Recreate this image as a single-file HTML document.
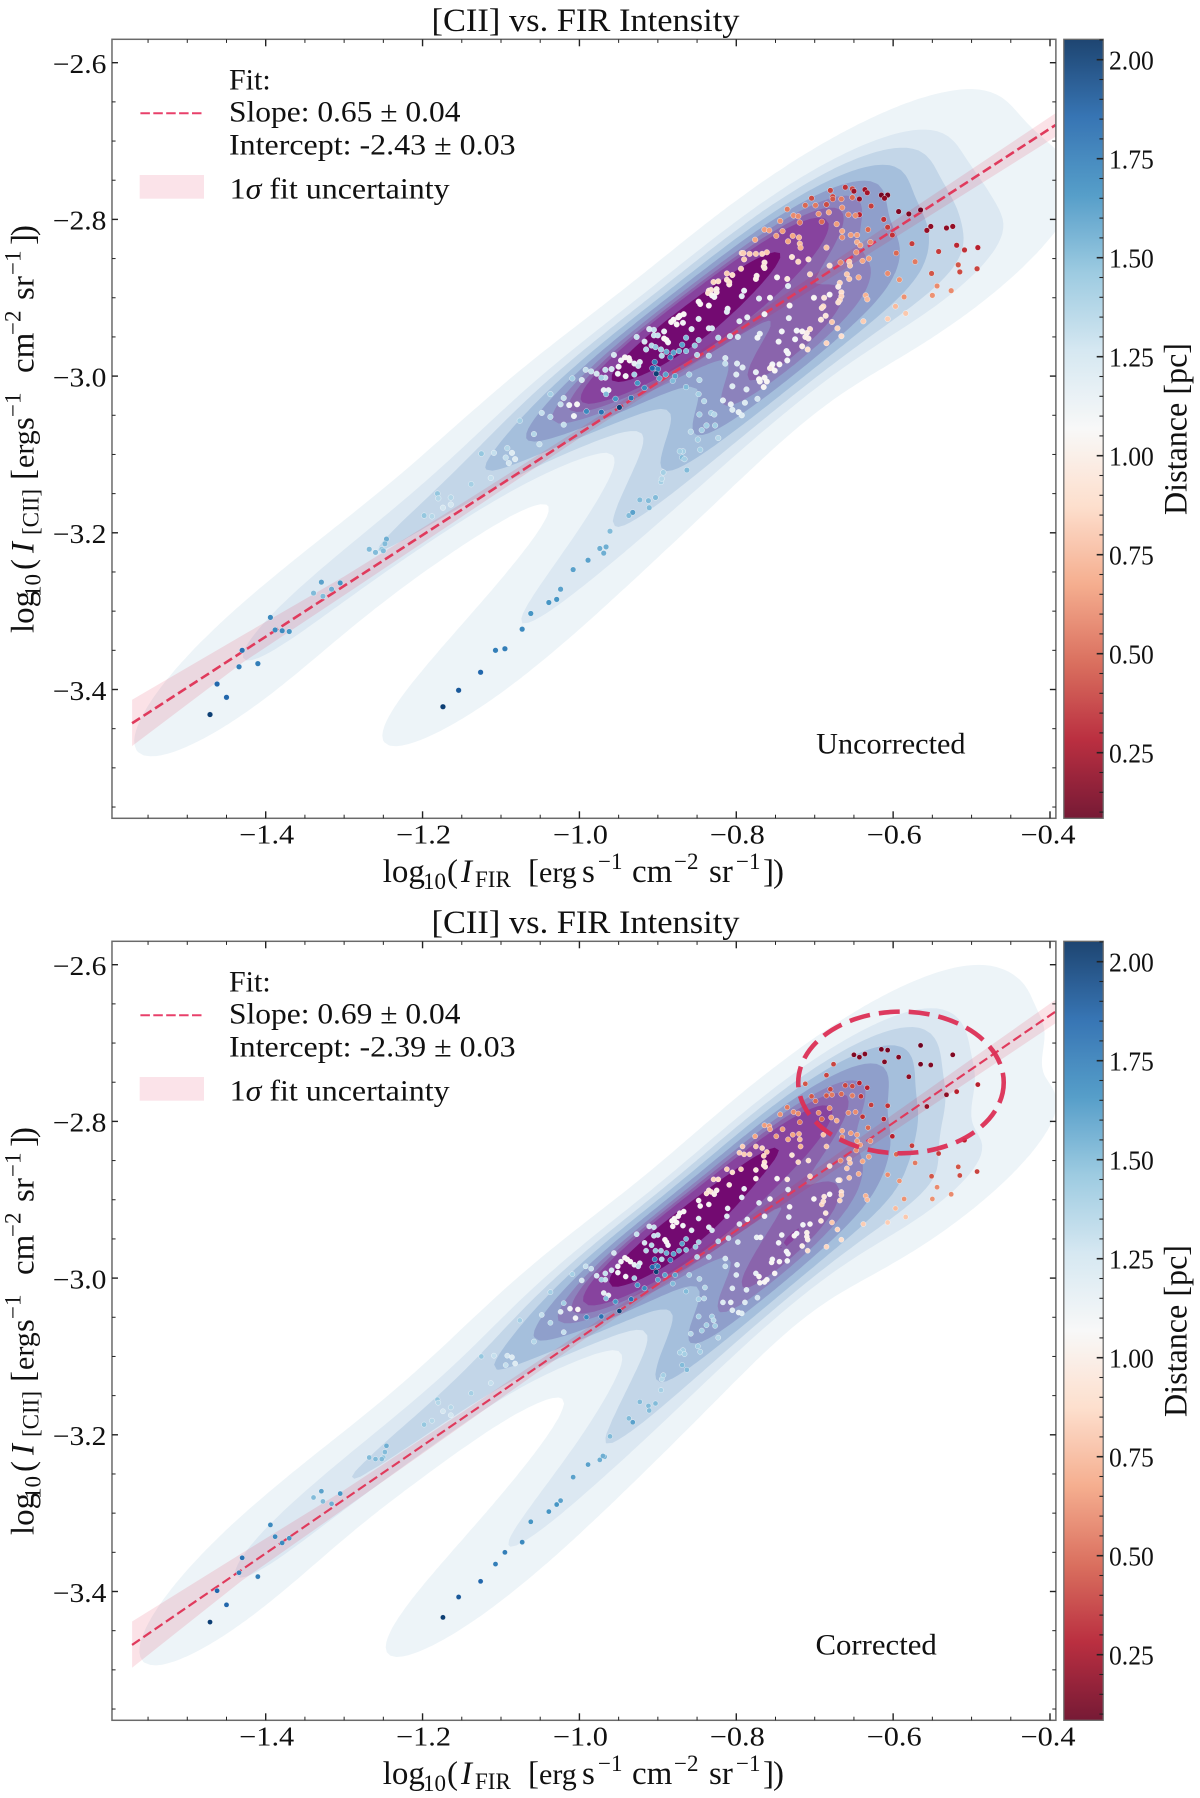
<!DOCTYPE html>
<html lang="en">
<head>
<meta charset="utf-8">
<title>[CII] vs. FIR Intensity</title>
<style>
html,body{margin:0;padding:0;background:#fff}
svg{display:block}
text{font-family:"Liberation Serif",serif;fill:#111}
</style>
</head>
<body>
<svg id="figure" xmlns="http://www.w3.org/2000/svg" width="1200" height="1798" viewBox="0 0 1200 1798">
<defs>
<clipPath id="plot-clip"><rect x="112" y="39.3" width="943.8" height="779"/></clipPath>
<linearGradient id="cb-gradient" x1="0" y1="1" x2="0" y2="0"></linearGradient>
</defs>

<g id="panel-top">
<g class="marks"></g>
<g class="axes"></g>
<text x="585.5" y="31" text-anchor="middle" font-size="33" textLength="308" lengthAdjust="spacingAndGlyphs">[CII] vs. FIR Intensity</text>
<text y="882" font-size="33"><tspan x="382.7">log</tspan><tspan x="423" dy="7" font-size="23">10</tspan><tspan x="447" dy="-7">(</tspan><tspan x="461" font-style="italic">I</tspan><tspan x="475" dy="5" font-size="23">FIR</tspan><tspan x="528" dy="-5">[</tspan><tspan x="539" font-size="30">erg</tspan><tspan x="582">s</tspan><tspan x="598" dy="-13" font-size="23">−1</tspan><tspan x="632" dy="13">cm</tspan><tspan x="674" dy="-13" font-size="23">−2</tspan><tspan x="709" dy="13">sr</tspan><tspan x="736" dy="-13" font-size="23">−1</tspan><tspan x="763" dy="13">]</tspan><tspan x="773">)</tspan></text>
<text transform="translate(33.3,0) rotate(-90)" font-size="33"><tspan x="-633">log</tspan><tspan x="-597" dy="7" font-size="23">10</tspan><tspan x="-570" dy="-7">(</tspan><tspan x="-553" font-style="italic">I</tspan><tspan x="-535" dy="5" font-size="23">[CII]</tspan><tspan x="-480" dy="-5">[</tspan><tspan x="-468" font-size="30">erg</tspan><tspan x="-430">s</tspan><tspan x="-417" dy="-13" font-size="23">−1</tspan><tspan x="-373" dy="13">cm</tspan><tspan x="-335" dy="-13" font-size="23">−2</tspan><tspan x="-300" dy="13">sr</tspan><tspan x="-275" dy="-13" font-size="23">−1</tspan><tspan x="-245" dy="13">]</tspan><tspan x="-236">)</tspan></text>
<text x="229" y="89.3" font-size="30">Fit:</text>
<line x1="140.4" x2="201.7" y1="113.3" y2="113.3" stroke="#e8406a" stroke-width="2" stroke-dasharray="9.5 3.4"/>
<text x="229" y="121.7" font-size="30" textLength="231.5" lengthAdjust="spacingAndGlyphs">Slope: 0.65 ± 0.04</text>
<text x="229" y="154.3" font-size="30" textLength="286.6" lengthAdjust="spacingAndGlyphs">Intercept: -2.43 ± 0.03</text>
<rect x="139.7" y="175" width="64.3" height="23.7" fill="#fbe3e9"/>
<text x="229.6" y="198.3" font-size="30" textLength="220" lengthAdjust="spacingAndGlyphs">1<tspan font-style="italic">σ</tspan> fit uncertainty</text>
<text x="816.2" y="753.3" font-size="30" textLength="149.3" lengthAdjust="spacingAndGlyphs">Uncorrected</text>
<text transform="translate(1186.7,0) rotate(-90)" x="-515" y="0" font-size="33" textLength="172" lengthAdjust="spacingAndGlyphs">Distance [pc]</text>
</g>

<g id="panel-bottom" transform="translate(0,902)">
<g class="marks"></g>
<g class="axes"></g>
<text x="585.5" y="31" text-anchor="middle" font-size="33" textLength="308" lengthAdjust="spacingAndGlyphs">[CII] vs. FIR Intensity</text>
<text y="882" font-size="33"><tspan x="382.7">log</tspan><tspan x="423" dy="7" font-size="23">10</tspan><tspan x="447" dy="-7">(</tspan><tspan x="461" font-style="italic">I</tspan><tspan x="475" dy="5" font-size="23">FIR</tspan><tspan x="528" dy="-5">[</tspan><tspan x="539" font-size="30">erg</tspan><tspan x="582">s</tspan><tspan x="598" dy="-13" font-size="23">−1</tspan><tspan x="632" dy="13">cm</tspan><tspan x="674" dy="-13" font-size="23">−2</tspan><tspan x="709" dy="13">sr</tspan><tspan x="736" dy="-13" font-size="23">−1</tspan><tspan x="763" dy="13">]</tspan><tspan x="773">)</tspan></text>
<text transform="translate(33.3,0) rotate(-90)" font-size="33"><tspan x="-633">log</tspan><tspan x="-597" dy="7" font-size="23">10</tspan><tspan x="-570" dy="-7">(</tspan><tspan x="-553" font-style="italic">I</tspan><tspan x="-535" dy="5" font-size="23">[CII]</tspan><tspan x="-480" dy="-5">[</tspan><tspan x="-468" font-size="30">erg</tspan><tspan x="-430">s</tspan><tspan x="-417" dy="-13" font-size="23">−1</tspan><tspan x="-373" dy="13">cm</tspan><tspan x="-335" dy="-13" font-size="23">−2</tspan><tspan x="-300" dy="13">sr</tspan><tspan x="-275" dy="-13" font-size="23">−1</tspan><tspan x="-245" dy="13">]</tspan><tspan x="-236">)</tspan></text>
<text x="229" y="89.3" font-size="30">Fit:</text>
<line x1="140.4" x2="201.7" y1="113.3" y2="113.3" stroke="#e8406a" stroke-width="2" stroke-dasharray="9.5 3.4"/>
<text x="229" y="121.7" font-size="30" textLength="231.5" lengthAdjust="spacingAndGlyphs">Slope: 0.69 ± 0.04</text>
<text x="229" y="154.3" font-size="30" textLength="286.6" lengthAdjust="spacingAndGlyphs">Intercept: -2.39 ± 0.03</text>
<rect x="139.7" y="175" width="64.3" height="23.7" fill="#fbe3e9"/>
<text x="229.6" y="198.3" font-size="30" textLength="220" lengthAdjust="spacingAndGlyphs">1<tspan font-style="italic">σ</tspan> fit uncertainty</text>
<text x="815.5" y="752.3" font-size="30" textLength="121.3" lengthAdjust="spacingAndGlyphs">Corrected</text>
<text transform="translate(1186.7,0) rotate(-90)" x="-515" y="0" font-size="33" textLength="172" lengthAdjust="spacingAndGlyphs">Distance [pc]</text>
</g>
</svg>

<script>
const firTop=[
-.680,-.661,-.652,-.650,-.636,-.633,-.643,-.615,-.607,-.611,
-.628,-.704,-.712,-.699,-.685,-.677,-.677,-.666,-.652,-.735,
-.727,-.721,-.695,-.682,-.665,-.657,-.643,-.648,-.593,-.580,
-.565,-.612,-.607,-.552,-.557,-.532,-.524,-.601,-.744,-.719,
-.691,-.672,-.764,-.758,-.665,-.632,-.749,-.741,-.728,-.665,
-.654,-.646,-.776,-.734,-.720,-.719,-.718,-.646,-.642,-.629,
-.576,-.519,-.509,-.492,-.542,-.793,-.791,-.783,-.775,-.767,
-.761,-.685,-.647,-.596,-.790,-.729,-.721,-.708,-.639,-.631,
-.572,-.667,-.656,-.655,-.681,-.764,-.765,-.764,-.794,-.812,
-.805,-.706,-.659,-.607,-.551,-.517,-.515,-.493,-.748,-.735,
-.775,-.774,-.656,-.644,-.592,-.829,-.823,-.812,-.809,-.809,
-.734,-.668,-.670,-.544,-.526,-.835,-.832,-.836,-.825,-.825,
-.790,-.666,-.550,-.586,-.635,-.831,-.828,-.793,-.771,-.757,
-.701,-.688,-.681,-.666,-.633,-.848,-.846,-.835,-.732,-.668,
-.670,-.689,-.691,-.597,-.811,-.812,-.764,-.686,-.584,-.607,
-.867,-.872,-.874,-.880,-.883,-.876,-.868,-.796,-.786,-.733,
-.692,-.678,-.638,-.848,-.835,-.831,-.857,-.671,-.911,-.905,
-.892,-.742,-.723,-.716,-.710,-.706,-.712,-.708,-.666,-.905,
-.900,-.927,-.808,-.823,-.798,-.770,-.773,-.746,-.725,-.892,
-.889,-.887,-.917,-.908,-.864,-.848,-.869,-.685,-.716,-.709,
-.915,-.903,-.896,-.889,-.880,-.873,-.864,-.853,-.956,-.895,
-.884,-.850,-.835,-.814,-.736,-.734,-.942,-.937,-.947,-.936,
-.930,-.923,-.925,-.904,-.814,-.799,-.735,-.745,-.754,-.755,
-.792,-.967,-.959,-.950,-.902,-.907,-.900,-.757,-.751,-.951,
-.941,-.930,-.902,-.898,-.890,-.878,-.860,-.800,-.775,-.967,
-.972,-.881,-.771,-.764,-.761,-.770,-.926,-.917,-.864,-.847,
-.805,-.787,-.765,-.969,-.963,-.848,-.841,-.966,-.954,-.934,
-.817,-.807,-.789,-.773,-.949,-.972,-.805,-.797,-.793,-.832,
-.828,-.847,-.838,-.827,-.844,-.858,-.849,-.823,-.868,-.846,
-.872,-.869,-.866,-.863,-.992,-.985,-.978,-1.009,-.997,-1.037,
-1.020,-1.024,-1.013,-1.003,-1.048,-1.037,-1.007,-.991,-1.076,-1.020,
-1.058,-1.051,-1.092,-1.125,-1.109,-1.086,-1.094,-1.082,-1.090,-1.113,
-1.138,-1.181,-1.180,-1.164,-1.164,-1.174,-1.198,-1.188,-1.246,-1.248,
-1.268,-1.260,-1.252,-1.250,-1.329,-1.305,-1.339,-1.316,-1.327,-1.394,
-1.388,-1.379,-1.370,-1.430,-1.434,-1.410,-1.462,-1.450,-1.471,-1.174,
-1.154,-1.126,-1.107,-1.095,-1.073,-1.062,-1.039,-1.029,-1.024,-1.008,
-.989,-.974,-.966,-.969,-.961,-.937,-.932,-.912,-.911,-.923,
-.903,-.896,-.895,-.893];
const ciiTop=[
-2.763,-2.759,-2.761,-2.764,-2.762,-2.766,-2.774,-2.769,-2.769,-2.773,
-2.783,-2.773,-2.782,-2.782,-2.781,-2.771,-2.774,-2.774,-2.772,-2.787,
-2.795,-2.796,-2.793,-2.791,-2.785,-2.794,-2.794,-2.795,-2.790,-2.793,
-2.788,-2.800,-2.810,-2.809,-2.814,-2.811,-2.809,-2.820,-2.802,-2.804,
-2.803,-2.806,-2.813,-2.814,-2.815,-2.813,-2.821,-2.815,-2.821,-2.823,
-2.820,-2.820,-2.826,-2.828,-2.823,-2.831,-2.836,-2.829,-2.833,-2.829,
-2.831,-2.833,-2.839,-2.836,-2.841,-2.843,-2.843,-2.844,-2.844,-2.844,
-2.842,-2.836,-2.842,-2.843,-2.851,-2.848,-2.854,-2.851,-2.853,-2.850,
-2.854,-2.855,-2.854,-2.859,-2.859,-2.855,-2.860,-2.862,-2.863,-2.869,
-2.871,-2.870,-2.870,-2.869,-2.869,-2.858,-2.867,-2.863,-2.874,-2.876,
-2.876,-2.872,-2.876,-2.874,-2.877,-2.880,-2.879,-2.877,-2.883,-2.880,
-2.885,-2.881,-2.886,-2.885,-2.891,-2.891,-2.890,-2.894,-2.889,-2.893,
-2.891,-2.893,-2.897,-2.899,-2.897,-2.897,-2.899,-2.898,-2.901,-2.900,
-2.900,-2.900,-2.896,-2.898,-2.902,-2.905,-2.908,-2.910,-2.910,-2.903,
-2.906,-2.911,-2.913,-2.911,-2.914,-2.918,-2.921,-2.923,-2.920,-2.927,
-2.921,-2.923,-2.925,-2.928,-2.931,-2.934,-2.932,-2.930,-2.925,-2.926,
-2.928,-2.931,-2.930,-2.927,-2.939,-2.939,-2.940,-2.939,-2.940,-2.941,
-2.943,-2.943,-2.942,-2.943,-2.945,-2.940,-2.950,-2.952,-2.949,-2.948,
-2.948,-2.950,-2.949,-2.951,-2.950,-2.946,-2.951,-2.956,-2.953,-2.952,
-2.954,-2.957,-2.956,-2.961,-2.951,-2.954,-2.960,-2.958,-2.962,-2.966,
-2.966,-2.963,-2.966,-2.969,-2.970,-2.968,-2.968,-2.961,-2.973,-2.974,
-2.976,-2.973,-2.974,-2.977,-2.968,-2.971,-2.976,-2.977,-2.980,-2.980,
-2.984,-2.982,-2.987,-2.982,-2.984,-2.984,-2.980,-2.985,-2.985,-2.988,
-2.989,-2.992,-2.991,-2.988,-2.990,-2.990,-2.991,-2.990,-2.993,-2.997,
-3.000,-2.998,-2.997,-3.003,-2.998,-3.000,-2.998,-2.998,-2.995,-3.002,
-3.002,-3.006,-3.004,-3.002,-3.007,-3.007,-3.009,-3.015,-3.014,-3.005,
-3.013,-3.017,-3.014,-3.018,-3.018,-3.023,-3.032,-3.023,-3.029,-3.028,
-3.031,-3.036,-3.034,-3.029,-3.040,-3.046,-3.043,-3.046,-3.050,-3.047,
-3.049,-3.049,-3.063,-3.063,-3.069,-3.071,-3.081,-3.079,-3.096,-3.094,
-3.096,-3.104,-3.106,-3.120,-2.992,-2.994,-2.997,-3.003,-3.005,-3.023,
-3.028,-3.036,-3.037,-3.036,-3.047,-3.052,-3.051,-3.045,-3.057,-3.062,
-3.074,-3.087,-3.092,-3.099,-3.098,-3.098,-3.104,-3.106,-3.111,-3.130,
-3.138,-3.150,-3.156,-3.155,-3.164,-3.168,-3.178,-3.179,-3.208,-3.214,
-3.221,-3.225,-3.221,-3.223,-3.263,-3.264,-3.277,-3.272,-3.281,-3.308,
-3.324,-3.325,-3.326,-3.350,-3.371,-3.367,-3.393,-3.410,-3.432,-3.422,
-3.401,-3.378,-3.350,-3.348,-3.323,-3.303,-3.289,-3.285,-3.272,-3.247,
-3.235,-3.220,-3.218,-3.226,-3.198,-3.178,-3.174,-3.159,-3.168,-3.158,
-3.155,-3.135,-3.131,-3.123];
const distTop=[
.40,.35,.40,.22,.22,.25,.20,.12,.12,.18,
.38,.42,.50,.55,.42,.40,.45,.55,.50,.55,
.60,.60,.62,.68,.62,.58,.30,.60,.15,.15,
.10,.35,.38,.18,.20,.18,.20,.35,.62,.55,
.50,.65,.65,.65,.68,.50,.65,.65,.68,.60,
.65,.65,.68,.68,.72,.75,.72,.70,.65,.60,
.38,.32,.35,.30,.38,.82,.82,.82,.80,.85,
.80,.78,.62,.50,.82,.92,.85,.90,.68,.65,
.55,.60,.80,.80,.90,.95,.90,.95,.82,.82,
.88,.85,.80,.60,.45,.45,.42,.40,1.05,.95,
.98,1.0,.80,.70,.62,.85,.88,.90,.95,.90,
1.2,.85,1.0,.60,.60,.90,.92,.90,1.0,1.0,
1.15,.90,.62,.62,.72,1.05,1.1,1.2,1.2,1.05,
1.05,.95,1.05,.85,.75,1.05,1.05,1.05,1.05,.85,
.90,.85,.90,.75,1.15,1.2,1.1,.95,.80,.82,
1.05,1.05,1.05,1.05,1.05,1.05,1.1,1.2,1.15,1.15,
.95,.80,.82,1.2,1.2,1.25,1.2,.85,1.25,1.3,
1.15,1.1,1.1,1.05,1.0,.90,1.0,1.0,.90,1.3,
1.3,1.3,1.3,1.35,1.25,1.15,1.1,1.1,1.1,1.05,
1.05,1.1,1.25,1.35,1.5,1.4,1.6,.85,1.0,.90,
1.35,1.45,1.4,1.55,1.6,1.55,1.5,1.45,1.25,1.35,
1.75,1.35,1.35,1.25,1.1,1.1,1.05,1.05,1.1,1.05,
1.15,1.2,1.3,1.75,1.3,1.2,1.1,1.05,1.1,1.05,
1.2,1.3,1.25,1.1,1.85,1.85,1.75,1.0,1.05,1.1,
1.1,1.4,2.0,1.6,1.6,1.6,1.4,1.2,1.15,1.3,
1.4,1.5,1.05,1.05,1.05,1.05,1.65,1.7,1.5,1.35,
1.2,1.2,1.05,1.15,1.15,1.4,1.35,1.5,1.65,1.8,
1.2,1.15,1.2,1.25,2.0,1.8,1.2,1.15,1.2,1.4,
1.35,1.4,1.4,1.4,1.4,1.35,1.4,1.35,1.4,1.4,
1.4,1.5,1.4,1.5,1.3,1.3,1.25,1.4,1.25,1.4,
1.3,1.3,1.1,1.05,1.3,1.35,1.1,1.7,1.4,1.3,
1.35,1.3,1.35,1.45,1.3,1.2,1.3,1.2,1.25,1.3,
1.4,1.45,1.35,1.35,1.25,1.25,1.45,1.35,1.55,1.5,
1.5,1.5,1.45,1.5,1.6,1.65,1.5,1.55,1.5,1.7,
1.7,1.7,1.65,1.8,1.75,1.75,1.85,1.85,2.0,2.0,
1.9,1.85,1.75,1.75,1.7,1.65,1.65,1.65,1.6,1.6,
1.6,1.55,1.55,1.55,1.5,1.5,1.6,1.5,1.5,1.5,
1.5,1.4,1.35,1.4];

const firBottom=[
-.676,-.685,-.650,-.643,-.636,-.615,-.607,-.611,-.593,-.565,
-.565,-.552,-.524,-.580,-.712,-.680,-.661,-.652,-.643,-.633,
-.641,-.704,-.699,-.685,-.666,-.678,-.652,-.628,-.607,-.557,
-.532,-.519,-.492,-.735,-.727,-.721,-.695,-.681,-.679,-.672,
-.657,-.648,-.639,-.612,-.744,-.719,-.764,-.758,-.757,-.691,
-.749,-.741,-.728,-.720,-.665,-.632,-.601,-.665,-.654,-.646,
-.776,-.734,-.719,-.718,-.689,-.646,-.642,-.629,-.576,-.509,
-.792,-.775,-.767,-.761,-.685,-.796,-.790,-.783,-.765,-.729,
-.647,-.596,-.542,-.721,-.708,-.639,-.631,-.572,-.764,-.765,
-.763,-.667,-.656,-.655,-.681,-.794,-.812,-.805,-.775,-.706,
-.659,-.607,-.551,-.517,-.515,-.493,-.748,-.735,-.775,-.656,
-.644,-.592,-.829,-.823,-.809,-.734,-.668,-.670,-.544,-.526,
-.835,-.832,-.838,-.825,-.828,-.790,-.666,-.550,-.586,-.635,
-.793,-.771,-.757,-.701,-.688,-.681,-.666,-.633,-.848,-.846,
-.835,-.732,-.668,-.691,-.689,-.597,-.811,-.812,-.764,-.686,
-.584,-.607,-.867,-.872,-.874,-.879,-.882,-.876,-.868,-.796,
-.786,-.733,-.692,-.678,-.638,-.848,-.835,-.831,-.857,-.671,
-.911,-.905,-.881,-.715,-.706,-.742,-.723,-.726,-.710,-.710,
-.709,-.666,-.905,-.900,-.927,-.810,-.823,-.798,-.774,-.769,
-.746,-.891,-.889,-.887,-.917,-.908,-.864,-.848,-.869,-.685,
-.716,-.709,-.915,-.903,-.896,-.889,-.880,-.873,-.864,-.852,
-.956,-.895,-.884,-.850,-.835,-.814,-.736,-.734,-.942,-.939,
-.947,-.935,-.930,-.923,-.925,-.904,-.814,-.799,-.735,-.745,
-.754,-.755,-.967,-.959,-.951,-.902,-.907,-.900,-.951,-.941,
-.930,-.902,-.900,-.891,-.878,-.860,-.800,-.775,-.751,-.967,
-.972,-.881,-.771,-.764,-.761,-.770,-.926,-.917,-.864,-.847,
-.805,-.787,-.840,-.969,-.963,-.848,-.841,-.966,-.954,-.934,
-.817,-.807,-.789,-.773,-.949,-.972,-.805,-.797,-.793,-.831,
-.829,-.848,-.838,-.827,-.844,-.858,-.849,-.823,-.868,-.846,
-.872,-.869,-.866,-.863,-.992,-.985,-.978,-1.009,-.997,-1.037,
-1.020,-1.024,-1.012,-1.002,-1.048,-1.037,-1.005,-.991,-1.076,-1.020,
-1.058,-1.125,-1.092,-1.109,-1.086,-1.094,-1.082,-1.113,-1.138,-1.181,
-1.180,-1.164,-1.164,-1.174,-1.198,-1.188,-1.246,-1.248,-1.268,-1.260,
-1.250,-1.252,-1.329,-1.305,-1.339,-1.316,-1.327,-1.394,-1.388,-1.379,
-1.370,-1.430,-1.434,-1.410,-1.462,-1.450,-1.471,-1.174,-1.154,-1.126,
-1.107,-1.095,-1.073,-1.062,-1.039,-1.029,-1.024,-1.008,-.989,-.974,
-.968,-.970,-.961,-.937,-.932,-.912,-.911,-.923,-.903,-.896,
-.895,-.893];
const ciiBottom=[
-2.727,-2.741,-2.715,-2.718,-2.714,-2.708,-2.709,-2.724,-2.718,-2.703,
-2.727,-2.728,-2.715,-2.743,-2.752,-2.759,-2.754,-2.755,-2.751,-2.757,
-2.768,-2.768,-2.774,-2.767,-2.765,-2.766,-2.767,-2.779,-2.780,-2.781,
-2.766,-2.762,-2.753,-2.782,-2.788,-2.790,-2.789,-2.783,-2.795,-2.799,
-2.789,-2.788,-2.794,-2.797,-2.791,-2.801,-2.805,-2.806,-2.810,-2.797,
-2.819,-2.810,-2.817,-2.816,-2.812,-2.808,-2.819,-2.820,-2.815,-2.817,
-2.819,-2.823,-2.823,-2.832,-2.817,-2.825,-2.830,-2.825,-2.831,-2.824,
-2.832,-2.832,-2.834,-2.839,-2.832,-2.840,-2.842,-2.842,-2.844,-2.843,
-2.837,-2.842,-2.841,-2.852,-2.850,-2.851,-2.845,-2.853,-2.852,-2.856,
-2.858,-2.850,-2.848,-2.853,-2.857,-2.861,-2.861,-2.865,-2.862,-2.870,
-2.860,-2.868,-2.870,-2.858,-2.869,-2.864,-2.873,-2.874,-2.873,-2.872,
-2.867,-2.876,-2.874,-2.874,-2.881,-2.887,-2.875,-2.875,-2.884,-2.893,
-2.888,-2.890,-2.892,-2.888,-2.893,-2.886,-2.890,-2.899,-2.899,-2.895,
-2.897,-2.904,-2.899,-2.899,-2.896,-2.893,-2.894,-2.900,-2.901,-2.908,
-2.906,-2.909,-2.901,-2.906,-2.902,-2.911,-2.911,-2.921,-2.921,-2.917,
-2.922,-2.929,-2.915,-2.917,-2.921,-2.924,-2.927,-2.929,-2.933,-2.931,
-2.925,-2.922,-2.927,-2.929,-2.931,-2.924,-2.935,-2.939,-2.939,-2.938,
-2.934,-2.935,-2.934,-2.932,-2.931,-2.945,-2.943,-2.946,-2.942,-2.947,
-2.951,-2.951,-2.946,-2.945,-2.944,-2.949,-2.953,-2.954,-2.948,-2.948,
-2.955,-2.951,-2.954,-2.958,-2.955,-2.958,-2.950,-2.954,-2.956,-2.960,
-2.959,-2.965,-2.965,-2.965,-2.965,-2.968,-2.969,-2.965,-2.964,-2.960,
-2.968,-2.976,-2.977,-2.973,-2.973,-2.975,-2.966,-2.969,-2.974,-2.976,
-2.979,-2.979,-2.983,-2.981,-2.985,-2.976,-2.985,-2.983,-2.978,-2.979,
-2.976,-2.980,-2.994,-2.990,-2.985,-2.984,-2.986,-2.985,-2.993,-2.998,
-3.000,-2.992,-3.002,-2.996,-2.996,-2.996,-2.996,-2.994,-2.994,-3.002,
-3.002,-3.007,-2.998,-3.005,-3.002,-3.006,-3.009,-3.013,-3.017,-3.001,
-3.013,-3.015,-3.012,-3.019,-3.022,-3.027,-3.026,-3.026,-3.030,-3.027,
-3.031,-3.031,-3.031,-3.025,-3.042,-3.049,-3.041,-3.044,-3.045,-3.049,
-3.054,-3.049,-3.060,-3.061,-3.067,-3.071,-3.087,-3.076,-3.092,-3.094,
-3.095,-3.111,-3.097,-3.117,-2.985,-2.988,-2.997,-2.995,-3.003,-3.018,
-3.032,-3.043,-3.039,-3.040,-3.047,-3.057,-3.051,-3.050,-3.054,-3.069,
-3.081,-3.100,-3.099,-3.099,-3.101,-3.111,-3.109,-3.134,-3.147,-3.155,
-3.159,-3.165,-3.175,-3.170,-3.187,-3.182,-3.214,-3.222,-3.229,-3.231,
-3.229,-3.231,-3.272,-3.275,-3.280,-3.288,-3.285,-3.315,-3.330,-3.338,
-3.332,-3.357,-3.376,-3.381,-3.399,-3.417,-3.439,-3.433,-3.407,-3.387,
-3.365,-3.350,-3.337,-3.311,-3.298,-3.289,-3.284,-3.254,-3.238,-3.232,
-3.228,-3.227,-3.202,-3.179,-3.184,-3.163,-3.169,-3.158,-3.160,-3.143,
-3.129,-3.124];
const distBottom=[
.40,.40,.15,.15,.15,.12,.12,.15,.15,.10,
.12,.15,.15,.18,.45,.40,.40,.40,.30,.30,
.35,.45,.50,.45,.50,.55,.55,.38,.35,.20,
.18,.30,.30,.55,.60,.60,.60,.60,.65,.70,
.60,.60,.35,.30,.62,.55,.65,.65,.65,.50,
.65,.65,.68,.70,.68,.50,.30,.60,.65,.65,
.68,.68,.75,.72,.78,.65,.65,.60,.38,.30,
.82,.80,.85,.80,.78,.82,.82,.82,.85,.92,
.60,.50,.38,.85,.90,.68,.65,.55,.90,.95,
.95,.60,.80,.80,.90,.82,.82,.88,.95,.85,
.80,.60,.45,.45,.42,.40,1.05,.95,1.0,.80,
.70,.62,.85,.88,.95,1.2,.85,1.0,.60,.60,
.90,.92,.90,1.0,1.0,1.15,.90,.62,.62,.72,
1.2,1.2,1.05,1.05,.95,1.05,.85,.75,1.05,1.05,
1.05,1.05,.85,.85,.90,.75,1.15,1.2,1.1,.95,
.80,.82,1.05,1.05,1.05,1.05,1.05,1.05,1.1,1.2,
1.15,1.15,.95,.80,.82,1.2,1.2,1.25,1.2,.85,
1.25,1.3,1.05,1.1,1.05,1.1,1.1,1.05,1.0,1.0,
1.0,.90,1.3,1.3,1.3,1.3,1.35,1.25,1.15,1.1,
1.1,1.05,1.05,1.1,1.25,1.35,1.5,1.4,1.6,.85,
1.0,.90,1.35,1.45,1.4,1.55,1.6,1.55,1.5,1.45,
1.25,1.35,1.75,1.35,1.35,1.25,1.1,1.1,1.05,1.05,
1.1,1.05,1.15,1.2,1.3,1.75,1.3,1.2,1.1,1.05,
1.1,1.05,1.3,1.25,1.1,1.85,1.85,1.75,1.1,1.1,
1.4,2.0,1.6,1.6,1.6,1.4,1.2,1.15,1.05,1.3,
1.4,1.5,1.05,1.05,1.05,1.05,1.65,1.7,1.5,1.35,
1.2,1.2,1.35,1.15,1.15,1.4,1.35,1.5,1.65,1.8,
1.2,1.15,1.2,1.25,2.0,1.8,1.2,1.15,1.2,1.4,
1.35,1.4,1.4,1.4,1.4,1.35,1.4,1.35,1.4,1.4,
1.4,1.5,1.4,1.5,1.3,1.3,1.25,1.4,1.25,1.4,
1.4,1.2,1.1,1.05,1.3,1.35,1.1,1.7,1.4,1.3,
1.35,1.45,1.25,1.3,1.2,1.3,1.2,1.3,1.4,1.45,
1.35,1.35,1.25,1.25,1.45,1.35,1.55,1.5,1.5,1.5,
1.45,1.5,1.6,1.65,1.5,1.55,1.5,1.7,1.7,1.7,
1.65,1.8,1.75,1.75,1.85,1.85,2.0,2.0,1.9,1.85,
1.75,1.75,1.7,1.65,1.65,1.65,1.6,1.6,1.6,1.55,
1.55,1.55,1.5,1.5,1.6,1.5,1.5,1.5,1.5,1.4,
1.35,1.4];

const fitSlopeTop=0.6485;
const fitInterceptTop=-2.4247;
const fitSlopeBottom=0.6866;
const fitInterceptBottom=-2.390;
const fitRange=[-1.5704,-0.393];
const bandFir=[-1.5704,-1.43,-1.3,-1.15,-1.0,-0.8,-0.6,-0.393];
const bandUpper=[0.030,0.021,0.012,0.008,0.006,0.006,0.011,0.015];
const bandLower=[0.029,0.014,0.012,0.009,0.006,0.006,0.011,0.015];
const xTicks=[-1.4,-1.2,-1.0,-0.8,-0.6,-0.4];
const xTickLabels=["−1.4","−1.2","−1.0","−0.8","−0.6","−0.4"];
const yTicks=[-2.6,-2.8,-3.0,-3.2,-3.4];
const yTickLabels=["−2.6","−2.8","−3.0","−3.2","−3.4"];
const colorbarTicks=[0.25,0.5,0.75,1.0,1.25,1.5,1.75,2.0];
const colorbarTickLabels=["0.25","0.50","0.75","1.00","1.25","1.50","1.75","2.00"];
const ellipseCenter=[-0.59,-2.7503];
const ellipseRadii=[0.131,0.0904];

const SVGNS="http://www.w3.org/2000/svg";
const X_MIN=-1.596,X_MAX=-0.3925;
const C_MIN=0.084,C_MAX=2.05;
const densityLevelCount=9;
const bandColors=["#edf4f8","#dce8f2","#c3d6e8","#a5bfdc","#8f9fcb","#8c82bc","#8a64ac","#87439e","#730a71"];
const rdBuStops=[[103,0,31],[178,24,43],[214,96,77],[244,165,130],[253,219,199],[247,247,247],[209,229,240],[146,197,222],[67,147,195],[33,102,172],[5,48,97]];

function xScale(v){return 1050+(v+0.4)*784.3;}
function yScale(v){return 62.7+(-2.6-v)*783.5;}
function colorbarScale(v){return 455.7+(1-v)*396;}
function rdBu(t){
  t=Math.max(0,Math.min(1,t))*10;
  const i=Math.min(9,Math.floor(t)),f=t-i,a=rdBuStops[i],b=rdBuStops[i+1];
  return [a[0]+(b[0]-a[0])*f,a[1]+(b[1]-a[1])*f,a[2]+(b[2]-a[2])*f];
}
function pointColor(d){
  const c=rdBu((d-C_MIN)/(C_MAX-C_MIN));
  return "rgb("+c.map(Math.round).join(",")+")";
}
function barColor(t){
  const c=rdBu(t).map(function(v){return Math.round(v*0.9+255*0.1);});
  return "rgb("+c.join(",")+")";
}
function mk(tag,attrs){
  const e=document.createElementNS(SVGNS,tag);
  for(const k in attrs){e.setAttribute(k,attrs[k]);}
  return e;
}

function density(fir,cii,adjust){
  const n=Math.min(fir.length,cii.length);
  let mx=0,my=0;
  for(let i=0;i<n;i++){mx+=fir[i];my+=cii[i];}
  mx/=n;my/=n;
  let sxx=0,syy=0,sxy=0;
  for(let i=0;i<n;i++){
    const a=fir[i]-mx,b=cii[i]-my;
    sxx+=a*a;syy+=b*b;sxy+=a*b;
  }
  sxx/=n-1;syy/=n-1;sxy/=n-1;
  const f=Math.pow(n,-1/6)*adjust,f2=f*f;
  const det=(sxx*syy-sxy*sxy)*f2*f2;
  const ia=syy*f2/det,ib=-sxy*f2/det,ic=sxx*f2/det;
  const nx=210,ny=210,x0=-1.8,x1=-0.2,y0=-3.72,y1=-2.42;
  const g=new Float64Array(nx*ny),xs=[],ys=[];
  for(let i=0;i<nx;i++){xs.push(x0+(x1-x0)*i/(nx-1));}
  for(let j=0;j<ny;j++){ys.push(y0+(y1-y0)*j/(ny-1));}
  for(let j=0;j<ny;j++){
    for(let i=0;i<nx;i++){
      let s=0;
      for(let p=0;p<n;p++){
        const dx=xs[i]-fir[p],dy=ys[j]-cii[p];
        const q=ia*dx*dx+2*ib*dx*dy+ic*dy*dy;
        if(q<36){s+=Math.exp(-0.5*q);}
      }
      g[j*nx+i]=s;
    }
  }
  return {g:g,nx:nx,ny:ny,xs:xs,ys:ys};
}
function isoLevels(g,count,thresh){
  const sorted=Array.from(g).sort(function(a,b){return a-b;});
  let total=0;
  for(let i=0;i<sorted.length;i++){total+=sorted[i];}
  const out=[];
  let cum=0,idx=0;
  for(let k=0;k<count;k++){
    const p=thresh+(1-thresh)*k/count;
    while(idx<sorted.length-1&&cum/total<p){cum+=sorted[idx];idx++;}
    out.push(sorted[idx]);
  }
  return out;
}
function contourPath(d,L){
  const g=d.g,nx=d.nx,ny=d.ny,xs=d.xs,ys=d.ys;
  const pos=new Map(),adj=new Map();
  function link(a,b){
    if(!adj.has(a)){adj.set(a,[]);}
    if(!adj.has(b)){adj.set(b,[]);}
    adj.get(a).push(b);
    adj.get(b).push(a);
  }
  function hEdge(i,j){
    const k=(j*nx+i)*2;
    if(!pos.has(k)){
      const a=g[j*nx+i],b=g[j*nx+i+1],t=(L-a)/(b-a);
      pos.set(k,[xScale(xs[i]+(xs[i+1]-xs[i])*t),yScale(ys[j])]);
    }
    return k;
  }
  function vEdge(i,j){
    const k=(j*nx+i)*2+1;
    if(!pos.has(k)){
      const a=g[j*nx+i],b=g[(j+1)*nx+i],t=(L-a)/(b-a);
      pos.set(k,[xScale(xs[i]),yScale(ys[j]+(ys[j+1]-ys[j])*t)]);
    }
    return k;
  }
  for(let j=0;j<ny-1;j++){
    for(let i=0;i<nx-1;i++){
      const a=g[j*nx+i],b=g[j*nx+i+1],c=g[(j+1)*nx+i+1],e=g[(j+1)*nx+i];
      const A=a>=L,B=b>=L,C=c>=L,E=e>=L;
      if(A===B&&B===C&&C===E){continue;}
      const t=A!==B?hEdge(i,j):null,r=B!==C?vEdge(i+1,j):null,o=C!==E?hEdge(i,j+1):null,l=E!==A?vEdge(i,j):null;
      const es=[t,r,o,l].filter(function(v){return v!==null;});
      if(es.length===2){link(es[0],es[1]);}
      else if(es.length===4){
        const m=(a+b+c+e)/4;
        if((m>=L)===A){link(t,r);link(o,l);}
        else{link(t,l);link(r,o);}
      }
    }
  }
  const seen=new Set();
  let path="";
  adj.forEach(function(_,start){
    if(seen.has(start)){return;}
    let cur=start;
    seen.add(cur);
    let p=pos.get(cur);
    path+="M"+p[0].toFixed(1)+" "+p[1].toFixed(1);
    for(;;){
      const nb=adj.get(cur).find(function(v){return !seen.has(v);});
      if(nb===undefined){break;}
      seen.add(nb);
      cur=nb;
      p=pos.get(cur);
      path+="L"+p[0].toFixed(1)+" "+p[1].toFixed(1);
    }
    path+="Z";
  });
  return path;
}

function drawMarks(root,fir,cii,dist,slope,intercept,radius,lineWidth,adjust,thresh,showEllipse){
  const clip=mk("g",{"clip-path":"url(#plot-clip)"});
  
  
  root.appendChild(clip);
  const d=density(fir,cii,adjust);
  const levels=isoLevels(d.g,densityLevelCount,thresh);
  levels.forEach(function(L,k){
    const path=mk("path",{d:contourPath(d,L),fill:bandColors[k],"fill-rule":"evenodd"});
    
    
    clip.appendChild(path);
  });
  let up="",low="";
  bandFir.forEach(function(x,i){
    const line=slope*x+intercept;
    up+=(i?"L":"M")+xScale(x).toFixed(1)+" "+yScale(line+bandUpper[i]).toFixed(1);
  });
  for(let i=bandFir.length-1;i>=0;i--){
    const x=bandFir[i],line=slope*x+intercept;
    low+="L"+xScale(x).toFixed(1)+" "+yScale(line-bandLower[i]).toFixed(1);
  }
  const band=mk("path",{d:up+low+"Z",fill:"#dc143c","fill-opacity":"0.12"});
  
  
  clip.appendChild(band);
  const fit=mk("line",{x1:xScale(fitRange[0]),y1:yScale(slope*fitRange[0]+intercept),x2:xScale(fitRange[1]),y2:yScale(slope*fitRange[1]+intercept),stroke:"#e03a5c","stroke-width":lineWidth,"stroke-dasharray":"9.5 4.2"});
  
  
  clip.appendChild(fit);
  const n=Math.min(fir.length,cii.length,dist.length);
  for(let i=0;i<n;i++){
    const c=mk("circle",{cx:xScale(fir[i]).toFixed(2),cy:yScale(cii[i]).toFixed(2),r:radius,fill:pointColor(dist[i]),stroke:"#fff","stroke-width":"0.35"});
    
    
    clip.appendChild(c);
  }
  if(showEllipse){
    const cx=xScale(ellipseCenter[0]),cy=yScale(ellipseCenter[1]);
    const e=mk("ellipse",{cx:cx,cy:cy,rx:xScale(ellipseCenter[0]+ellipseRadii[0])-cx,ry:yScale(ellipseCenter[1]-ellipseRadii[1])-cy,fill:"none",stroke:"#dc2f55","stroke-width":"4.6","stroke-dasharray":"21 9","stroke-opacity":"0.95"});
    
    
    root.appendChild(e);
  }
}

function tick(root,x1,y1,x2,y2,w,name){
  const t=mk("line",{x1:x1,y1:y1,x2:x2,y2:y2,stroke:"#222","stroke-width":w});
  
  
  root.appendChild(t);
}
function drawAxes(root){
  const L=xScale(X_MIN),R=xScale(X_MAX),T=39.3,B=818.3;
  const frame=mk("rect",{x:L,y:T,width:R-L,height:B-T,fill:"none",stroke:"#6a6a6a","stroke-width":"1.5"});
  
  
  root.appendChild(frame);
  for(let k=0;k<=24;k++){
    const v=-1.55+k*0.05,px=xScale(v);
    if(px>R||px<L){continue;}
    const major=k%4===3;
    const len=major?7:3.6;
    tick(root,px,B,px,B-len,major?1.4:1,major?'x-major-tick':'x-minor-tick');
    tick(root,px,T,px,T+len,major?1.4:1,major?'x-major-tick-top':'x-minor-tick-top');
  }
  for(let k=0;k<=20;k++){
    const v=-2.55-k*0.05,py=yScale(v);
    if(py>B||py<T){continue;}
    const major=k%4===1;
    const len=major?6:3.6;
    tick(root,L,py,L+len,py,major?1.4:1,major?'y-major-tick':'y-minor-tick');
    tick(root,R,py,R-len,py,major?1.4:1,major?'y-major-tick-right':'y-minor-tick-right');
  }
  xTicks.forEach(function(v,i){
    const t=mk("text",{x:xScale(v)+(i===5?-2:1),y:843.3,"text-anchor":"middle","font-size":"27",textLength:"55",lengthAdjust:"spacingAndGlyphs"});
    t.textContent=xTickLabels[i];
    
    
    root.appendChild(t);
  });
  yTicks.forEach(function(v,i){
    const t=mk("text",{x:52.8,y:yScale(v)+10.3,"font-size":"27",textLength:"53.6",lengthAdjust:"spacingAndGlyphs"});
    t.textContent=yTickLabels[i];
    
    
    root.appendChild(t);
  });
  const cb=mk("rect",{x:1063.8,y:T,width:39.4,height:B-T,fill:"url(#cb-gradient)",stroke:"#6a6a6a","stroke-width":"1.3"});
  
  
  root.appendChild(cb);
  for(let k=0;k<=40;k++){
    const v=0.1+k*0.05,py=colorbarScale(v);
    if(py<T||py>B){continue;}
    const major=k%5===3;
    tick(root,1103.2,py,1103.2-(major?6.5:3.8),py,major?1.6:1.1,major?'colorbar-major-tick':'colorbar-minor-tick');
  }
  colorbarTicks.forEach(function(v,i){
    const t=mk("text",{x:1109,y:colorbarScale(v)+10,"font-size":"27",textLength:"44.8",lengthAdjust:"spacingAndGlyphs"});
    t.textContent=colorbarTickLabels[i];
    
    
    root.appendChild(t);
  });
}

const grad=document.getElementById("cb-gradient");
for(let i=0;i<=40;i++){
  const s=mk("stop",{offset:(i/40),"stop-color":barColor(i/40)});
  grad.appendChild(s);
}
const topPanel=document.getElementById("panel-top");
const bottomPanel=document.getElementById("panel-bottom");
drawMarks(topPanel.querySelector(".marks"),firTop,ciiTop,distTop,fitSlopeTop,fitInterceptTop,2.8,2.6,1.15,0.02,false);
drawMarks(bottomPanel.querySelector(".marks"),firBottom,ciiBottom,distBottom,fitSlopeBottom,fitInterceptBottom,2.6,2.2,1.05,0.02,true);
drawAxes(topPanel.querySelector(".axes"));
drawAxes(bottomPanel.querySelector(".axes"));
</script>
</body>
</html>
